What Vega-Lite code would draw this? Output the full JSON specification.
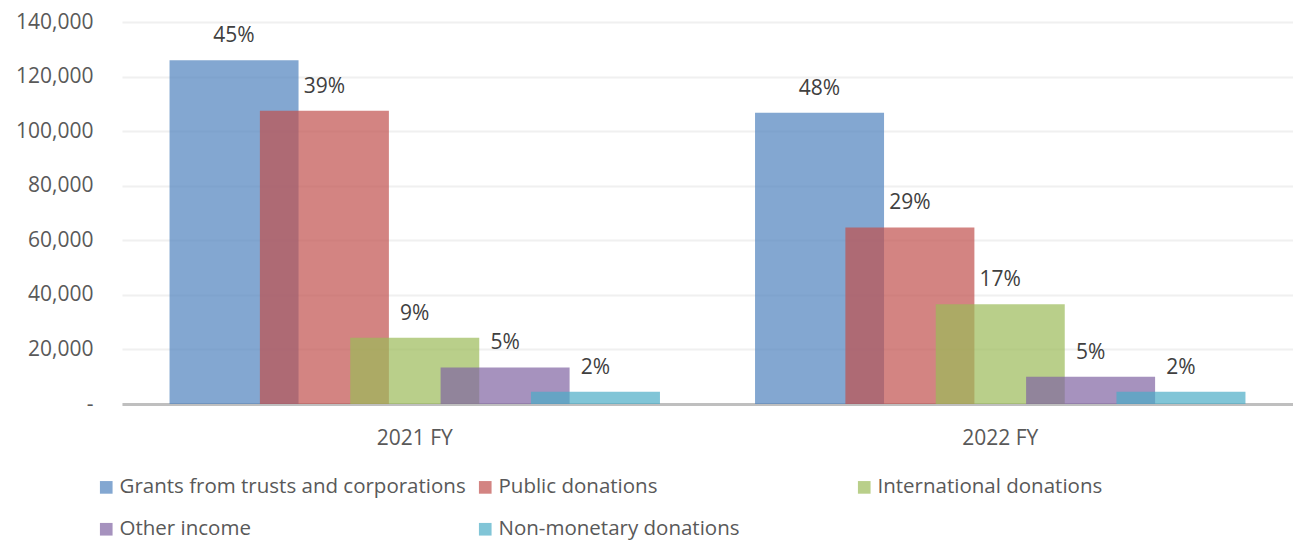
{
  "$schema": "https://vega.github.io/schema/vega-lite/v6.json",
  "width": 1171,
  "height": 382,
  "autosize": {"type": "none"},
  "padding": {"left": 122, "top": 22, "right": 0, "bottom": 140},
  "config": {"view": {"stroke": null}, "font": "Open Sans"},
  "data": {
    "values": [
      {"year": "2021 FY", "series": "Grants from trusts and corporations", "value": 126000, "pct": "45%"},
      {"year": "2021 FY", "series": "Public donations", "value": 107500, "pct": "39%"},
      {"year": "2021 FY", "series": "International donations", "value": 24300, "pct": "9%"},
      {"year": "2021 FY", "series": "Other income", "value": 13400, "pct": "5%"},
      {"year": "2021 FY", "series": "Non-monetary donations", "value": 4500, "pct": "2%"},
      {"year": "2022 FY", "series": "Grants from trusts and corporations", "value": 106700, "pct": "48%"},
      {"year": "2022 FY", "series": "Public donations", "value": 64700, "pct": "29%"},
      {"year": "2022 FY", "series": "International donations", "value": 36600, "pct": "17%"},
      {"year": "2022 FY", "series": "Other income", "value": 10000, "pct": "5%"},
      {"year": "2022 FY", "series": "Non-monetary donations", "value": 4500, "pct": "2%"}
    ]
  },
  "encoding": {
    "x": {
      "field": "year", "type": "nominal",
      "scale": {"paddingInner": 0, "paddingOuter": 0},
      "axis": {"title": null, "labelAngle": 0, "ticks": false, "domain": true, "domainColor": "#bfbfbf", "domainWidth": 3, "labelFontSize": 21, "labelColor": "#595959", "labelPadding": 23, "labelFont": "Open Sans"}
    },
    "xOffset": {
      "field": "series", "type": "nominal",
      "sort": ["Grants from trusts and corporations", "Public donations", "International donations", "Other income", "Non-monetary donations"],
      "scale": {"paddingInner": 0, "paddingOuter": 0.74}
    }
  },
  "layer": [
    {
      "mark": {"type": "bar", "width": 129, "opacity": 0.7},
      "encoding": {
        "y": {
          "field": "value", "type": "quantitative",
          "scale": {"domain": [0, 140000]},
          "axis": {"title": null, "values": [0, 20000, 40000, 60000, 80000, 100000, 120000, 140000], "labelExpr": "datum.value == 0 ? '-' : format(datum.value, ',')", "domain": false, "ticks": false, "gridColor": "#f0f0f0", "gridWidth": 2, "labelFontSize": 21, "labelColor": "#595959", "labelPadding": 29, "labelFont": "Open Sans"}
        },
        "color": {
          "field": "series", "type": "nominal",
          "sort": ["Grants from trusts and corporations", "Public donations", "International donations", "Other income", "Non-monetary donations"],
          "scale": {"range": ["#4F81BD", "#C0504D", "#9BBB59", "#8064A2", "#4BACC6"]},
          "legend": {"orient": "none", "legendX": -26, "legendY": 455, "direction": "horizontal", "columns": 3, "gridAlign": "all", "title": null, "symbolType": "square", "symbolSize": 160, "symbolOpacity": 0.7, "labelFontSize": 20.5, "labelColor": "#595959", "labelFont": "Open Sans", "labelOffset": 3, "columnPadding": 9, "rowPadding": 21, "labelLimit": 0}
        }
      }
    },
    {
      "mark": {"type": "text", "dy": -24, "fontSize": 21, "color": "#404040", "font": "Open Sans"},
      "encoding": {
        "y": {"field": "value", "type": "quantitative"},
        "text": {"field": "pct"}
      }
    }
  ]
}
